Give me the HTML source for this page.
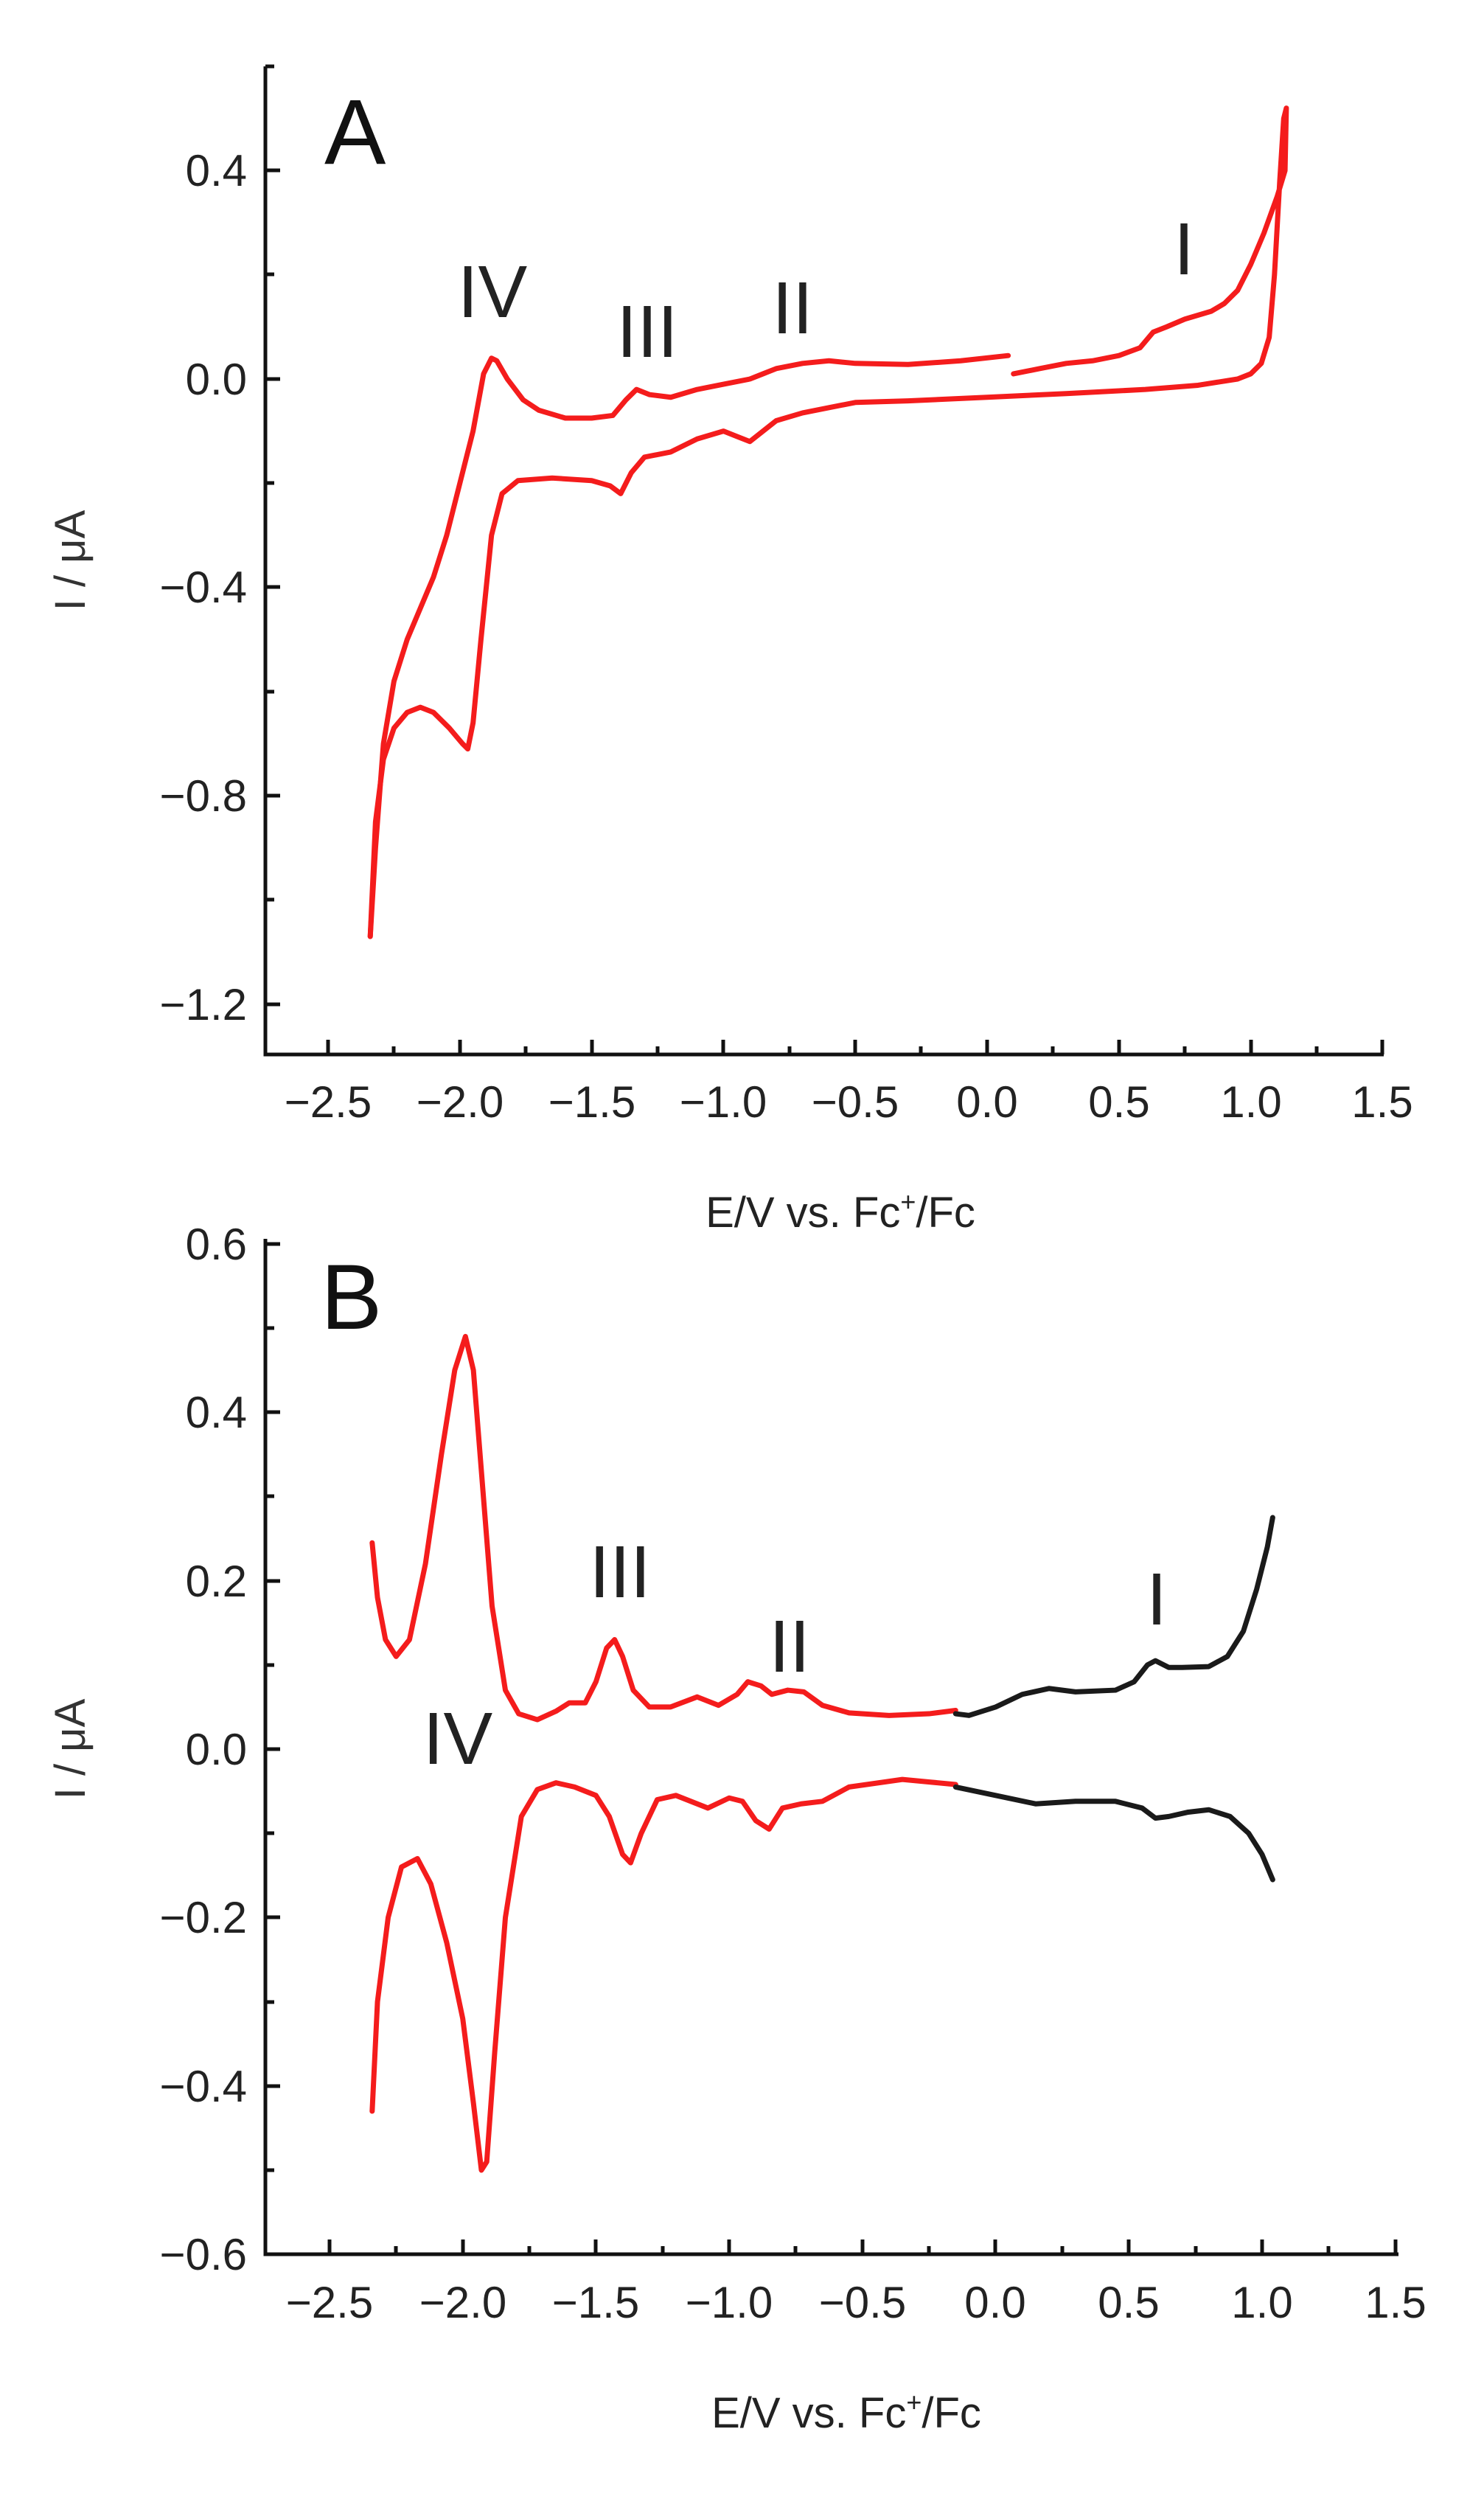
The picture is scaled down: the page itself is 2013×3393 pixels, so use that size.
<!DOCTYPE html>
<html><head><meta charset="utf-8"><style>html,body{margin:0;padding:0;background:#fff}svg{display:block}</style></head><body>
<svg width="2013" height="3393" viewBox="0 0 2013 3393" xmlns="http://www.w3.org/2000/svg" font-family="Liberation Sans, Arial, sans-serif">
<rect width="2013" height="3393" fill="#fff"/>
<!-- Panel A axes -->
<g stroke="#111" stroke-width="5" fill="none">
<path d="M360 90 V1430 H1877"/>
<path d="M445 1430v-20M624 1430v-20M803 1430v-20M981 1430v-20M1160 1430v-20M1339 1430v-20M1518 1430v-20M1697 1430v-20M1875 1430v-20"/>
<path d="M534 1430v-11M713 1430v-11M892 1430v-11M1071 1430v-11M1249 1430v-11M1428 1430v-11M1607 1430v-11M1786 1430v-11"/>
<path d="M360 231h20M360 514h20M360 796h20M360 1079h20M360 1362h20"/>
<path d="M360 90h12M360 372h12M360 655h12M360 938h12M360 1220h12"/>
</g>
<g font-size="60" fill="#222" text-anchor="middle">
<text x="445" y="1515">−2.5</text><text x="624" y="1515">−2.0</text><text x="803" y="1515">−1.5</text><text x="981" y="1515">−1.0</text><text x="1160" y="1515">−0.5</text><text x="1339" y="1515">0.0</text><text x="1518" y="1515">0.5</text><text x="1697" y="1515">1.0</text><text x="1875" y="1515">1.5</text>
</g>
<g font-size="60" fill="#222" text-anchor="end">
<text x="335" y="252">0.4</text><text x="335" y="535">0.0</text><text x="335" y="817">−0.4</text><text x="335" y="1100">−0.8</text><text x="335" y="1383">−1.2</text>
</g>
<text x="1140" y="1664" font-size="58" fill="#222" text-anchor="middle">E/V vs. Fc<tspan font-size="36" dy="-22">+</tspan><tspan dy="22">/Fc</tspan></text>
<text transform="translate(115 760) rotate(-90)" font-size="58" fill="#333" text-anchor="middle">I / μA</text>
<text x="440" y="222" font-size="125" fill="#111">A</text>
<g font-size="100" fill="#222" text-anchor="middle">
<text x="668" y="430">IV</text><text x="878" y="484">III</text><text x="1075" y="452">II</text><text x="1606" y="372">I</text>
</g>
<g transform="matrix(357.6 0 0 -706.5 1339 514)" fill="none" stroke="#f41c1c" stroke-width="7" stroke-linejoin="round" stroke-linecap="round">
<polyline vector-effect="non-scaling-stroke" points="-2.34,-1.07 -2.32,-0.85 -2.29,-0.73 -2.25,-0.67 -2.2,-0.64 -2.15,-0.63 -2.1,-0.64 -2.04,-0.67 -1.99,-0.7 -1.97,-0.71 -1.95,-0.66 -1.92,-0.5 -1.88,-0.3 -1.84,-0.22 -1.78,-0.195 -1.65,-0.19 -1.5,-0.195 -1.43,-0.205 -1.39,-0.22 -1.35,-0.18 -1.3,-0.15 -1.2,-0.14 -1.1,-0.115 -1.0,-0.1 -0.95,-0.11 -0.9,-0.12 -0.85,-0.1 -0.8,-0.08 -0.7,-0.065 -0.6,-0.055 -0.5,-0.045 -0.3,-0.042 0,-0.035 0.3,-0.028 0.6,-0.02 0.8,-0.012 0.95,0 1.0,0.01 1.04,0.03 1.07,0.08 1.09,0.2 1.11,0.38 1.125,0.5 1.135,0.52 1.13,0.4 1.1,0.35 1.05,0.28 1.0,0.22 0.95,0.17 0.9,0.145 0.85,0.13 0.75,0.115 0.68,0.1 0.63,0.09 0.58,0.06 0.5,0.045 0.4,0.035 0.3,0.03 0.2,0.02 0.1,0.01"/>
<polyline vector-effect="non-scaling-stroke" points="0.08,0.045 -0.1,0.035 -0.3,0.028 -0.5,0.03 -0.6,0.035 -0.7,0.03 -0.8,0.02 -0.85,0.01 -0.9,0 -1.0,-0.01 -1.1,-0.02 -1.2,-0.035 -1.28,-0.03 -1.33,-0.02 -1.37,-0.04 -1.42,-0.07 -1.5,-0.075 -1.6,-0.075 -1.7,-0.06 -1.76,-0.04 -1.82,0 -1.86,0.035 -1.88,0.04 -1.91,0.01 -1.95,-0.1 -2.0,-0.2 -2.05,-0.3 -2.1,-0.38 -2.15,-0.44 -2.2,-0.5 -2.25,-0.58 -2.29,-0.7 -2.32,-0.9 -2.34,-1.07"/>
</g>
<!-- Panel B axes -->
<g stroke="#111" stroke-width="5" fill="none">
<path d="M360 1680 V3057 H1897"/>
<path d="M447 3057v-20M628 3057v-20M808 3057v-20M989 3057v-20M1170 3057v-20M1350 3057v-20M1531 3057v-20M1712 3057v-20M1893 3057v-20"/>
<path d="M537 3057v-11M718 3057v-11M899 3057v-11M1079 3057v-11M1260 3057v-11M1441 3057v-11M1622 3057v-11M1802 3057v-11"/>
<path d="M360 1687h20M360 1915h20M360 2144h20M360 2372h20M360 2600h20M360 2829h20"/>
<path d="M360 1801h12M360 2029h12M360 2258h12M360 2486h12M360 2715h12M360 2943h12"/>
</g>
<g font-size="60" fill="#222" text-anchor="middle">
<text x="447" y="3143">−2.5</text><text x="628" y="3143">−2.0</text><text x="808" y="3143">−1.5</text><text x="989" y="3143">−1.0</text><text x="1170" y="3143">−0.5</text><text x="1350" y="3143">0.0</text><text x="1531" y="3143">0.5</text><text x="1712" y="3143">1.0</text><text x="1893" y="3143">1.5</text>
</g>
<g font-size="60" fill="#222" text-anchor="end">
<text x="335" y="1708">0.6</text><text x="335" y="1936">0.4</text><text x="335" y="2165">0.2</text><text x="335" y="2393">0.0</text><text x="335" y="2621">−0.2</text><text x="335" y="2850">−0.4</text><text x="335" y="3078">−0.6</text>
</g>
<text x="1148" y="3292" font-size="58" fill="#222" text-anchor="middle">E/V vs. Fc<tspan font-size="36" dy="-22">+</tspan><tspan dy="22">/Fc</tspan></text>
<text transform="translate(115 2372) rotate(-90)" font-size="58" fill="#333" text-anchor="middle">I / μA</text>
<text x="435" y="1802" font-size="125" fill="#111">B</text>
<g font-size="100" fill="#222" text-anchor="middle">
<text x="621" y="2392">IV</text><text x="841" y="2166">III</text><text x="1071" y="2267">II</text><text x="1569" y="2203">I</text>
</g>
<g transform="matrix(361.4 0 0 -1142 1350.5 2372)" fill="none" stroke-width="7" stroke-linejoin="round" stroke-linecap="round">
<polyline vector-effect="non-scaling-stroke" stroke="#f41c1c" points="-2.34,0.245 -2.32,0.18 -2.29,0.13 -2.25,0.11 -2.2,0.13 -2.14,0.22 -2.08,0.35 -2.03,0.45 -1.99,0.49 -1.96,0.45 -1.93,0.33 -1.89,0.17 -1.84,0.07 -1.79,0.042 -1.72,0.035 -1.65,0.045 -1.6,0.055 -1.54,0.055 -1.5,0.08 -1.46,0.12 -1.43,0.13 -1.4,0.11 -1.36,0.07 -1.3,0.05 -1.22,0.05 -1.12,0.062 -1.04,0.052 -0.97,0.065 -0.93,0.08 -0.88,0.075 -0.84,0.065 -0.78,0.07 -0.72,0.068 -0.65,0.052 -0.55,0.043 -0.4,0.04 -0.25,0.042 -0.15,0.046"/>
<polyline vector-effect="non-scaling-stroke" stroke="#1a1a1a" points="-0.15,0.042 -0.1,0.04 0,0.05 0.1,0.065 0.2,0.072 0.3,0.068 0.45,0.07 0.52,0.08 0.57,0.1 0.6,0.105 0.65,0.097 0.7,0.097 0.8,0.098 0.87,0.11 0.93,0.14 0.98,0.19 1.02,0.24 1.04,0.275"/>
<polyline vector-effect="non-scaling-stroke" stroke="#f41c1c" points="-2.34,-0.43 -2.32,-0.3 -2.28,-0.2 -2.23,-0.14 -2.17,-0.13 -2.12,-0.16 -2.06,-0.23 -2.0,-0.32 -1.96,-0.42 -1.93,-0.5 -1.91,-0.49 -1.88,-0.36 -1.84,-0.2 -1.78,-0.08 -1.72,-0.048 -1.65,-0.04 -1.58,-0.045 -1.5,-0.055 -1.45,-0.08 -1.4,-0.125 -1.37,-0.135 -1.33,-0.1 -1.27,-0.06 -1.2,-0.055 -1.08,-0.07 -1.0,-0.058 -0.95,-0.062 -0.9,-0.085 -0.85,-0.095 -0.8,-0.07 -0.73,-0.065 -0.65,-0.062 -0.55,-0.045 -0.35,-0.036 -0.15,-0.042"/>
<polyline vector-effect="non-scaling-stroke" stroke="#1a1a1a" points="-0.15,-0.045 0,-0.055 0.15,-0.065 0.3,-0.062 0.45,-0.062 0.55,-0.07 0.6,-0.082 0.65,-0.08 0.72,-0.075 0.8,-0.072 0.88,-0.08 0.95,-0.1 1.0,-0.125 1.04,-0.155"/>
</g>
</svg>
</body></html>
